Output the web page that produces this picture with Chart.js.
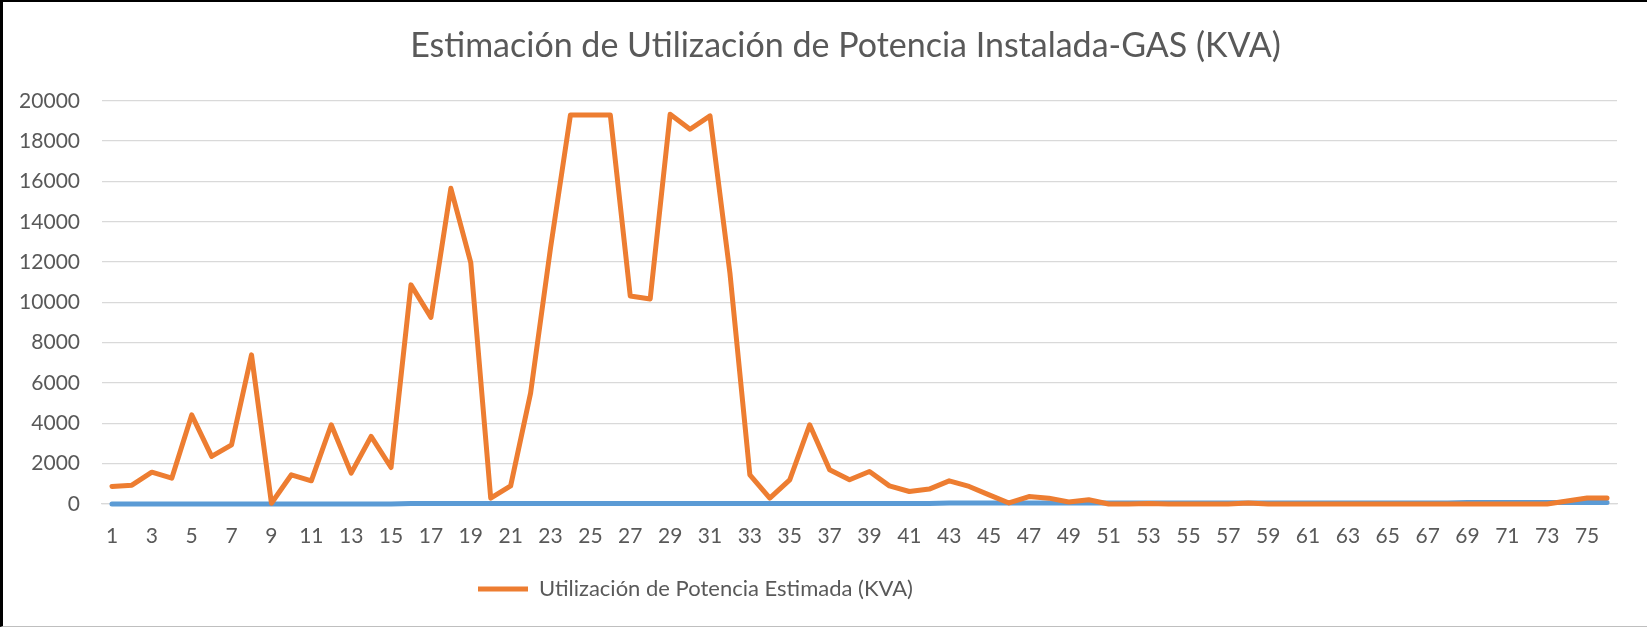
<!DOCTYPE html>
<html>
<head>
<meta charset="utf-8">
<script src="https://cdn.jsdelivr.net/npm/chart.js@4"></script>
<style>
  body { margin: 0; background: #fff; }
  #wrap { position: relative; width: 1647px; height: 627px; }
  #frame {
    position: absolute; left: 0; top: 0; width: 1647px; height: 627px;
    box-sizing: border-box; pointer-events: none;
    border-left: 3px solid #000; border-top: 2px solid #000; border-bottom: 1px solid #bfbfbf;
  }
</style>
</head>
<body>
<div id="wrap">
  <canvas id="myChart"></canvas>
  <div id="frame"></div>
</div>
<script>
// categories (1..76)
const categories = ['1','2','3','4','5','6','7','8','9','10','11','12','13','14','15','16','17','18','19','20',
  '21','22','23','24','25','26','27','28','29','30','31','32','33','34','35','36','37','38','39','40',
  '41','42','43','44','45','46','47','48','49','50','51','52','53','54','55','56','57','58','59','60',
  '61','62','63','64','65','66','67','68','69','70','71','72','73','74','75','76'];

// Utilización de Potencia Estimada (KVA) - orange
const potenciaEstimada = [870, 935, 1580, 1280, 4420, 2360, 2935, 7400, 40, 1450,
  1150, 3930, 1530, 3350, 1810, 10870, 9260, 15660, 11970, 290,
  900, 5500, 12700, 19300, 19300, 19300, 10320, 10170, 19330, 18590,
  19250, 11460, 1450, 290, 1200, 3930, 1700, 1200, 1610, 900,
  620, 740, 1150, 870, 455, 50, 370, 290, 100, 210,
  0, 0, 30, 0, 0, 0, 0, 50, 0, 0,
  0, 0, 0, 0, 0, 0, 0, 0, 0, 0,
  0, 0, 0, 150, 300, 300];

// second series (blue, not in legend) - stays near zero
const potenciaInstalada = [0, 0, 0, 0, 0, 0, 0, 0, 0, 0,
  0, 0, 0, 0, 0, 25, 25, 25, 25, 25,
  25, 25, 25, 25, 25, 25, 25, 25, 25, 25,
  25, 25, 25, 25, 25, 25, 25, 25, 25, 25,
  25, 25, 55, 55, 55, 55, 55, 55, 55, 55,
  55, 55, 55, 55, 55, 55, 55, 55, 55, 55,
  55, 55, 55, 55, 55, 55, 55, 55, 70, 70,
  70, 70, 70, 70, 70, 70];

const yTickValues = [0, 2000, 4000, 6000, 8000, 10000, 12000, 14000, 16000, 18000, 20000];

const textColor = '#595959';
const fontName = 'Lato, "Open Sans", sans-serif';

// moves the legend and title to where Excel left them (not centered on canvas)
const boxShift = {
    id: 'boxShift',
    afterLayout(chart) {
        const lg = chart.legend;
        if (lg) {
            const w = lg.right - lg.left;
            lg.left = 468;
            lg.right = 468 + w;
        }
        const tt = chart.titleBlock;
        if (tt) {
            tt.left += 37;
            tt.right += 37;
        }
    }
};

const ctx = document.getElementById('myChart').getContext('2d');

const myChart = new Chart(ctx, {
    type: 'line',
    data: {
        labels: categories,
        datasets: [{
            label: 'Utilización de Potencia Estimada (KVA)',
            data: potenciaEstimada,
            borderColor: '#ED7D31',
            backgroundColor: '#ED7D31',
            borderWidth: 5,
            pointRadius: 0,
            tension: 0,
            borderCapStyle: 'round',
            borderJoinStyle: 'round',
            clip: 10,
            order: 0
        },
        {
            label: 'Potencia Instalada',
            data: potenciaInstalada,
            borderColor: '#5B9BD5',
            backgroundColor: '#5B9BD5',
            borderWidth: 5,
            pointRadius: 0,
            tension: 0,
            borderCapStyle: 'round',
            borderJoinStyle: 'round',
            clip: 10,
            order: 1
        }]
    },
    options: {
        responsive: true,
        maintainAspectRatio: false,
        animation: false,
        layout: {
            padding: { left: 0, right: 30, top: 0, bottom: 17 }
        },
        plugins: {
            title: {
                display: true,
                text: 'Estimación de Utilización de Potencia Instalada-GAS (KVA)',
                color: textColor,
                font: { family: fontName, size: 34, weight: 'normal' },
                padding: { top: 26, bottom: 34 }
            },
            legend: {
                position: 'bottom',
                align: 'start',
                labels: {
                    color: textColor,
                    font: { family: fontName, size: 22 },
                    usePointStyle: true,
                    pointStyle: 'line',
                    pointStyleWidth: 50,
                    padding: 10,
                    // only the orange series shows in the legend
                    filter: function (item) {
                        return item.datasetIndex === 0;
                    }
                }
            },
            tooltip: { enabled: false }
        },
        scales: {
            x: {
                offset: true,
                grid: { display: false, drawTicks: false },
                border: { display: true, color: '#D9D9D9', width: 1.3 },
                ticks: {
                    color: textColor,
                    font: { family: fontName, size: 21 },
                    autoSkip: false,
                    maxRotation: 0,
                    padding: 20,
                    callback: function (v, i) {
                        return i % 2 === 0 ? categories[i] : '';
                    }
                },
                afterFit: function (scale) { scale.height = 64; }
            },
            y: {
                min: 0,
                max: 20000,
                grid: { color: '#D9D9D9', lineWidth: 1.3, drawTicks: false },
                border: { display: false },
                ticks: {
                    color: textColor,
                    font: { family: fontName, size: 21 },
                    padding: 22,
                    callback: function (v) { return String(v); }
                },
                afterBuildTicks: function (scale) {
                    scale.ticks = yTickValues.map(v => ({ value: v }));
                },
                afterFit: function (scale) { scale.width = 102; }
            }
        }
    },
    plugins: [boxShift]
});
</script>
</body>
</html>
